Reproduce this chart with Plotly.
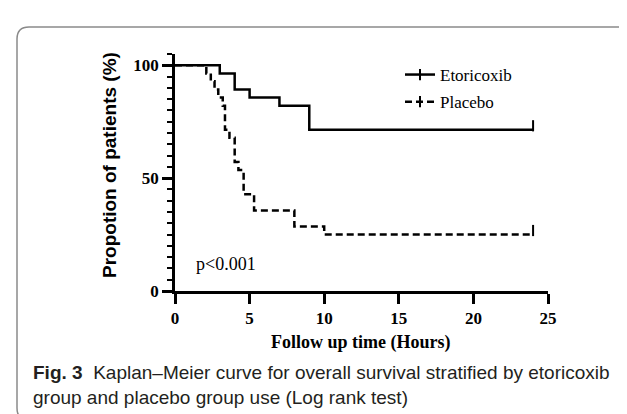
import plotly.graph_objects as go

# ---- data ----
etori_time = [0, 3.0, 4.0, 5.0, 7.0, 9.0, 24.0]
etori_surv = [100, 96.4, 89.3, 85.7, 82.1, 71.4, 71.4]

placebo_time = [0, 2.1, 2.4, 2.65, 2.9, 3.2, 3.35, 3.65, 4.0, 4.25, 4.6, 5.3, 8.0, 10.0, 24.0]
placebo_surv = [100, 96.4, 92.9, 89.3, 85.7, 82.1, 71.4, 67.9, 57.1, 53.6, 42.9, 35.7, 28.6, 25.0, 25.0]

x_ticks = [0, 5, 10, 15, 20, 25]
y_ticks = [0, 50, 100]

W, H = 627, 414
L, R, T, B = 167, 87, 46, 131
pw, ph = W - L - R, H - T - B


def px2paper(px, py):
    return (px - L) / pw, (H - B - py) / ph


fig = go.Figure()

series = [
    ("Etoricoxib", etori_time, etori_surv, "solid"),
    ("Placebo", placebo_time, placebo_surv, "7px,4px"),
]
for name, t, s, dash in series:
    fig.add_trace(go.Scatter(
        x=t, y=s, mode="lines", line=dict(color="black", width=2.5, dash=dash, shape="hv"),
        showlegend=False, hoverinfo="skip", legendgroup=name,
    ))
    # censor tick at the end of follow-up (also carries the legend entry)
    fig.add_trace(go.Scatter(
        x=[t[-1]], y=[s[-1] + 1.8], mode="lines+markers", name=name, legendgroup=name,
        line=dict(color="black", width=2.5, dash=dash),
        marker=dict(symbol="line-ns", size=8, line=dict(color="black", width=2)),
        showlegend=True, hoverinfo="skip",
    ))

fig.update_xaxes(
    range=[0, 25], tickvals=x_ticks, ticktext=[str(v) for v in x_ticks],
    showline=True, linecolor="black", linewidth=2.5, ticks="outside", ticklen=10,
    tickwidth=2.5, tickcolor="black", showgrid=False, zeroline=False,
    tickfont=dict(family="Liberation Serif", size=17, color="black", weight="bold"),
)
fig.update_yaxes(
    range=[0, 105], tickvals=y_ticks, ticktext=[str(v) for v in y_ticks],
    showline=True, linecolor="black", linewidth=2.5, ticks="outside", ticklen=10,
    tickwidth=2.5, tickcolor="black", showgrid=False, zeroline=False,
    tickfont=dict(family="Liberation Serif", size=17, color="black", weight="bold"),
    minor=dict(dtick=5, tick0=0, ticks="outside", ticklen=5, tickwidth=2, tickcolor="black", showgrid=False),
)

annotations = []
xa, ya = px2paper(101, 157)
annotations.append(dict(x=xa, y=ya, xref="paper", yref="paper", text="<b>Propotion of patients (%)</b>",
                        textangle=-90, showarrow=False, xanchor="center", yanchor="middle",
                        font=dict(family="Liberation Sans", size=19, color="black")))
xa, ya = px2paper(353, 334)
annotations.append(dict(x=xa, y=ya, xref="paper", yref="paper", text="<b>Follow up time (Hours)</b>",
                        showarrow=False, xanchor="center", yanchor="middle",
                        font=dict(family="Liberation Serif", size=18, color="black")))
annotations.append(dict(x=1.3, y=12, xref="x", yref="y", text="p<0.001", showarrow=False,
                        xanchor="left", yanchor="middle",
                        font=dict(family="Liberation Serif", size=18, color="black")))
xa, ya = px2paper(23, 352)
annotations.append(dict(x=xa, y=ya, xref="paper", yref="paper",
                        text="<b>Fig. 3</b>  Kaplan–Meier curve for overall survival stratified by etoricoxib<br>group and placebo group use (Log rank test)",
                        showarrow=False, xanchor="left", yanchor="top", align="left",
                        font=dict(family="Liberation Sans", size=19, color="#231f20")))

# rounded outer frame
x0, y0 = px2paper(9, 19)
x1, y1 = px2paper(628, 412)
rx = 12 / pw
ry = 12 / ph
path = (f"M {x0},{y0 - ry} L {x0},{y1 + ry} Q {x0},{y1} {x0 + rx},{y1} L {x1 - rx},{y1} "
        f"Q {x1},{y1} {x1},{y1 + ry} L {x1},{y0 - ry} Q {x1},{y0} {x1 - rx},{y0} "
        f"L {x0 + rx},{y0} Q {x0},{y0} {x0},{y0 - ry} Z")

lx, ly = px2paper(392, 49)
fig.update_layout(
    width=W, height=H,
    margin=dict(l=L, r=R, t=T, b=B, pad=0),
    paper_bgcolor="white", plot_bgcolor="white",
    annotations=annotations,
    shapes=[dict(type="path", path=path, xref="paper", yref="paper",
                 line=dict(color="#8a8a8a", width=1.5), layer="below")],
    legend=dict(x=lx, y=ly, xanchor="left", yanchor="top", bgcolor="rgba(0,0,0,0)",
                font=dict(family="Liberation Serif", size=17, color="black"),
                tracegroupgap=2, borderwidth=0),
    showlegend=True,
)

fig.write_html("out.html")
